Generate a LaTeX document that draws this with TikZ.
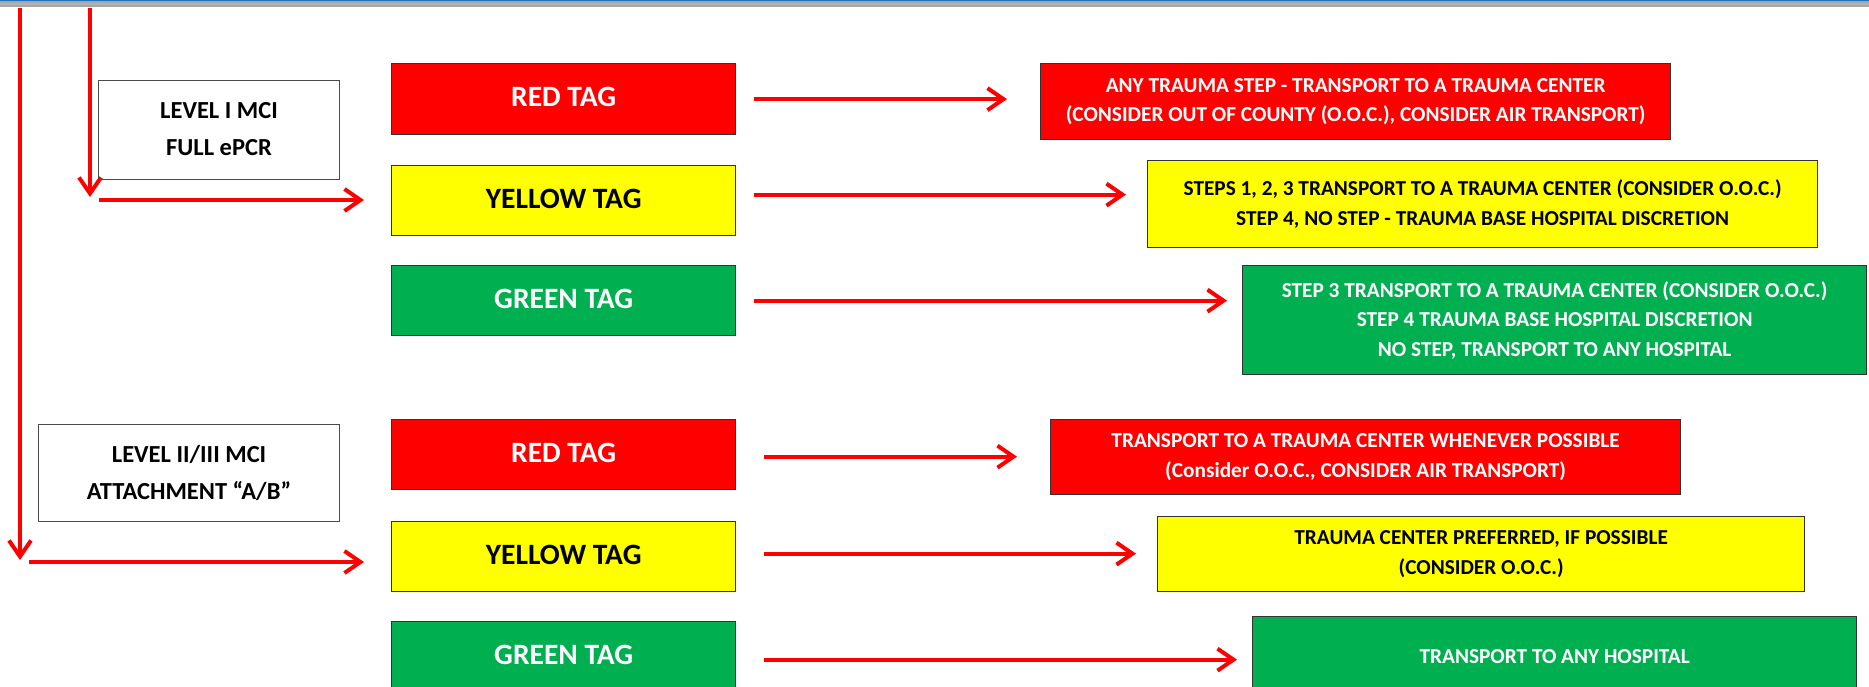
\documentclass[tikz,border=0pt]{standalone}
\usepackage{fontspec}
\setmainfont{Carlito}
\usetikzlibrary{arrows.meta,calc}
\definecolor{tagred}{HTML}{FF0000}
\definecolor{tagyellow}{HTML}{FFFF00}
\definecolor{taggreen}{HTML}{00B050}
\definecolor{barblue}{HTML}{1E73BE}
\definecolor{bargray}{HTML}{A6A6A6}
\newcommand{\up}[1]{\raisebox{4pt}{#1}}
\begin{document}
\begin{tikzpicture}[x=1pt,y=-1pt,
  box/.style={draw=black!80,line width=1.3pt,inner sep=0pt,anchor=north west,align=center,font=\bfseries},
  tagbox/.style={box,font=\fontsize{29.5}{34}\selectfont\bfseries},
  infobox/.style={box,font=\fontsize{21.3}{29.5}\selectfont\bfseries},
  levelbox/.style={box,draw=black!70,line width=1.1pt,fill=white,font=\fontsize{24.5}{36.7}\selectfont\bfseries},
  redarrow/.style={draw=tagred,line width=4pt,-{Straight Barb[length=16pt,width=22pt]}},
  redline/.style={draw=tagred,line width=4pt}]
\useasboundingbox (0,0) rectangle (1869,687);
% top window bar
\fill[bargray] (0,0) rectangle (1869,7);
\fill[gray!60] (0,3.5) rectangle (1869,5);
\fill[barblue] (0,0) rectangle (1869,1.5);
% level boxes
\node[levelbox,minimum width=241pt,minimum height=99pt] (L1) at (98,80) {\raisebox{2pt}{LEVEL I MCI}\\\raisebox{2pt}{FULL ePCR}};
\node[levelbox,minimum width=301pt,minimum height=97pt] (L2) at (38,424) {LEVEL II/III MCI\\ATTACHMENT “A/B”};
% tag boxes
\node[tagbox,fill=tagred,text=white,minimum width=344pt,minimum height=71pt] (tR1) at (391,63) {\up{RED TAG}};
\node[tagbox,fill=tagyellow,text=black,minimum width=344pt,minimum height=70pt] (tY1) at (391,165) {\up{YELLOW TAG}};
\node[tagbox,fill=taggreen,text=white,minimum width=344pt,minimum height=70pt] (tG1) at (391,265) {\up{GREEN TAG}};
\node[tagbox,fill=tagred,text=white,minimum width=344pt,minimum height=70pt] (tR2) at (391,419) {\up{RED TAG}};
\node[tagbox,fill=tagyellow,text=black,minimum width=344pt,minimum height=70pt] (tY2) at (391,521) {\up{YELLOW TAG}};
\node[tagbox,fill=taggreen,text=white,minimum width=344pt,minimum height=70pt] (tG2) at (391,621) {\up{GREEN TAG}};
% info boxes
\node[infobox,fill=tagred,text=white,minimum width=630pt,minimum height=76pt] (iR1) at (1040,63)
  {ANY TRAUMA STEP - TRANSPORT TO A TRAUMA CENTER\\(CONSIDER OUT OF COUNTY (O.O.C.), CONSIDER AIR TRANSPORT)};
\node[infobox,fill=tagyellow,text=black,minimum width=670pt,minimum height=87pt] (iY1) at (1147,160)
  {STEPS 1, 2, 3 TRANSPORT TO A TRAUMA CENTER (CONSIDER O.O.C.)\\STEP 4, NO STEP - TRAUMA BASE HOSPITAL DISCRETION};
\node[infobox,fill=taggreen,text=white,minimum width=624pt,minimum height=109pt] (iG1) at (1242,265)
  {STEP 3 TRANSPORT TO A TRAUMA CENTER (CONSIDER O.O.C.)\\STEP 4 TRAUMA BASE HOSPITAL DISCRETION\\NO STEP, TRANSPORT TO ANY HOSPITAL};
\node[infobox,fill=tagred,text=white,minimum width=630pt,minimum height=75pt] (iR2) at (1050,419)
  {TRANSPORT TO A TRAUMA CENTER WHENEVER POSSIBLE\\(Consider O.O.C., CONSIDER AIR TRANSPORT)};
\node[infobox,fill=tagyellow,text=black,minimum width=647pt,minimum height=75pt] (iY2) at (1157,516)
  {TRAUMA CENTER PREFERRED, IF POSSIBLE\\(CONSIDER O.O.C.)};
\node[infobox,fill=taggreen,text=white,minimum width=604pt,minimum height=80pt] (iG2) at (1252,616)
  {TRANSPORT TO ANY HOSPITAL};
% left flow lines
\coordinate (s1) at (20,8);
\coordinate (s2) at (90,8);
\coordinate (e1) at (20,560);
\coordinate (e2) at (90,197);
\draw[redarrow] (s1) -- (e1);
\draw[redarrow] (s2) -- (e2);
\coordinate (h1) at (99,200);
\coordinate (h2) at (29,562);
\draw[redarrow] (h1) -- ([xshift=-27pt]h1 -| tY1.west);
\draw[redarrow] (h2) -- ([xshift=-27pt]h2 -| tY2.west);
% tag to info arrows
\draw[redarrow] ($(tR1.east)+(18pt,0)$) -- ($(tR1.east -| iR1.west)+(-33pt,0)$);
\draw[redarrow] ($(tY1.east)+(18pt,6pt)$) -- ($(tY1.east -| iY1.west)+(-21pt,6pt)$);
\draw[redarrow] ($(tG1.east)+(18pt,0)$) -- ($(tG1.east -| iG1.west)+(-15pt,0)$);
\draw[redarrow] ($(tR2.east)+(28pt,-2pt)$) -- ($(tR2.east -| iR2.west)+(-33pt,-2pt)$);
\draw[redarrow] ($(tY2.east)+(28pt,3pt)$) -- ($(tY2.east -| iY2.west)+(-21pt,3pt)$);
\draw[redarrow] ($(tG2.east)+(28pt,-3pt)$) -- ($(tG2.east -| iG2.west)+(-15pt,-3pt)$);
\end{tikzpicture}
\end{document}
